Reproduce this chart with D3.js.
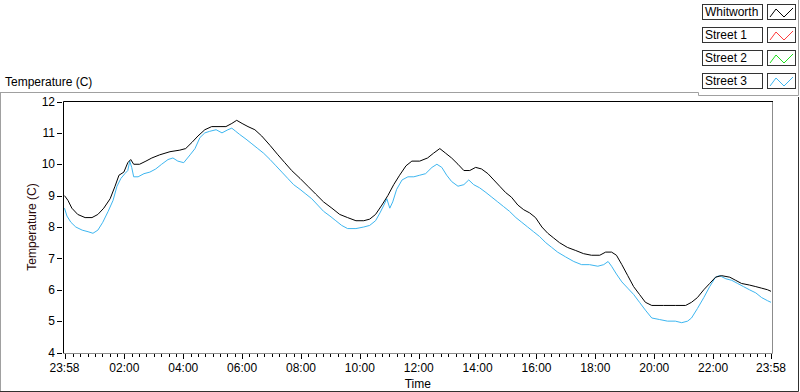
<!DOCTYPE html>
<html><head><meta charset="utf-8">
<script src="https://cdn.jsdelivr.net/npm/d3@7"></script>
<style>
body{margin:0;background:#fff;}
svg{display:block;font-family:"Liberation Sans","Noto Sans",sans-serif;}
</style></head>
<body><svg id="c" width="800" height="392"></svg>
<script>
// ---- data ----
const seriesNames = ["Whitworth","Street 1","Street 2","Street 3"];
const seriesColors = ["#000000","#ff3b3b","#1ee01e","#3db6f0"];
const yTicks = [4,5,6,7,8,9,10,11,12];
const xTickLabels = ["23:58","02:00","04:00","06:00","08:00","10:00","12:00","14:00","16:00","18:00","20:00","22:00","23:58"];
// minutes after 23:58
const whitworthMin = [0,7,15,27,42,56,68,80,93,103,111,121,129,135,141,153,166,178,194,215,235,247,260,272,286,300,317,329,341,351,362,374,388,402,419,435,449,463,480,496,512,528,545,561,577,594,610,622,634,647,659,671,683,696,708,724,740,752,765,777,789,802,814,826,838,850,863,875,887,899,911,924,936,948,960,973,985,997,1009,1025,1042,1058,1074,1091,1103,1115,1125,1136,1148,1160,1172,1184,1197,1221,1245,1266,1278,1290,1303,1315,1327,1339,1356,1368,1380,1396,1409,1421,1433,1440];
const whitworthTemp = [9.0,8.85,8.6,8.4,8.3,8.3,8.4,8.6,8.9,9.3,9.65,9.75,10.05,10.15,10.0,10.0,10.1,10.2,10.3,10.4,10.45,10.5,10.7,10.9,11.1,11.2,11.2,11.2,11.3,11.4,11.3,11.2,11.1,10.9,10.6,10.3,10.05,9.8,9.55,9.3,9.05,8.8,8.6,8.4,8.3,8.2,8.2,8.25,8.4,8.7,9.0,9.35,9.65,9.95,10.1,10.1,10.2,10.35,10.5,10.35,10.2,10.0,9.8,9.8,9.9,9.85,9.7,9.5,9.3,9.1,8.95,8.7,8.55,8.45,8.3,8.0,7.8,7.65,7.5,7.35,7.25,7.15,7.1,7.1,7.2,7.2,7.1,6.8,6.45,6.1,5.85,5.6,5.5,5.5,5.5,5.5,5.6,5.75,6.0,6.2,6.4,6.45,6.4,6.3,6.2,6.15,6.1,6.05,6.0,5.95];
const street3Min = [0,5,13,23,36,48,58,68,78,89,99,107,115,123,129,133,137,141,150,162,174,186,198,211,221,231,243,256,266,276,286,296,309,321,333,341,349,357,370,382,394,406,419,431,443,455,467,480,492,504,516,528,541,553,565,577,594,610,622,634,643,651,657,663,669,677,688,700,712,724,736,749,759,769,779,789,802,814,824,834,846,859,871,883,895,907,920,932,944,956,968,981,993,1005,1021,1038,1054,1070,1087,1099,1108,1115,1125,1136,1148,1160,1172,1184,1197,1213,1229,1245,1258,1270,1278,1290,1303,1315,1327,1335,1348,1360,1372,1384,1396,1409,1421,1433,1440];
const street3Temp = [8.6,8.35,8.15,8.0,7.9,7.85,7.8,7.9,8.15,8.5,8.85,9.3,9.55,9.7,9.8,10.1,9.9,9.6,9.6,9.7,9.75,9.85,10.0,10.15,10.2,10.1,10.05,10.3,10.5,10.85,11.0,11.05,11.1,11.0,11.1,11.15,11.05,10.95,10.8,10.65,10.5,10.35,10.15,9.95,9.75,9.55,9.35,9.2,9.05,8.9,8.7,8.5,8.35,8.2,8.05,7.95,7.95,8.0,8.05,8.2,8.45,8.7,8.9,8.6,8.8,9.2,9.5,9.6,9.6,9.65,9.7,9.9,10.0,9.9,9.65,9.45,9.3,9.35,9.5,9.35,9.25,9.1,8.95,8.8,8.65,8.5,8.3,8.15,8.0,7.85,7.7,7.5,7.35,7.2,7.05,6.9,6.8,6.8,6.75,6.8,6.9,6.75,6.5,6.25,6.05,5.85,5.6,5.35,5.1,5.05,5.0,5.0,4.95,5.0,5.1,5.4,5.75,6.1,6.4,6.45,6.35,6.3,6.2,6.1,6.0,5.9,5.75,5.65,5.6];

// ---- chart ----
const svg = d3.select("#c");
const start = new Date(2013,0,1,23,58);
const end = new Date(2013,0,2,23,58);
const toDate = m => new Date(start.getTime() + m*60000);
const L = 64.5, R = 771, T = 101.5, B = 352.5;
const x = d3.scaleTime().domain([start,end]).range([L,R]);
const y = d3.scaleLinear().domain([4,12]).range([B,T]);

svg.append("rect").attr("width",800).attr("height",392).attr("fill","#fff");

// outer frame
const fr = svg.append("g").attr("fill","none");
fr.append("path").attr("d","M0,92.5H698.5V95.5H798.5V0").attr("stroke","#a0a0a0");
fr.append("path").attr("d","M0.5,92V392").attr("stroke","#a0a0a0");
fr.append("path").attr("d","M0,391.5H798.5V97").attr("stroke","#303030");

// title
svg.append("text").attr("x",5).attr("y",86).attr("font-size",12).attr("fill","#000").text("Temperature (C)");

// plot frame
fr.append("path").attr("d",`M772.5,101V353.5H63`).attr("stroke","#8c8c8c");
fr.append("path").attr("d",`M63.5,353V101.5H773`).attr("stroke","#000");

// y axis
const ya = svg.append("g");
yTicks.forEach(v=>{
  ya.append("line").attr("x1",57).attr("x2",62).attr("y1",Math.round(y(v))+0.5).attr("y2",Math.round(y(v))+0.5).attr("stroke","#000");
  ya.append("text").attr("x",55).attr("y",y(v)).attr("dy","0.35em").attr("text-anchor","end").attr("font-size",12).attr("fill","#000").text(v);
});
svg.append("text").attr("transform",`translate(36,${(T+B)/2}) rotate(-90)`).attr("text-anchor","middle")
  .attr("font-size",12).attr("fill","#2a0a0a").text("Temperature (C)");

// x axis
const xa = svg.append("g");
const minor = d3.timeMinute.every(15).range(start,end);
minor.forEach(d=>{
  const px = Math.round(x(d))+0.5;
  xa.append("line").attr("x1",px).attr("x2",px).attr("y1",354).attr("y2",357).attr("stroke","#000");
});
const majors = [start].concat(d3.timeHour.every(2).range(new Date(2013,0,2,2,0), new Date(2013,0,2,23,0))).concat([end]);
majors.forEach((d,i)=>{
  const px = Math.round(x(d))+0.5;
  xa.append("line").attr("x1",px).attr("x2",px).attr("y1",354).attr("y2",359).attr("stroke","#000").attr("stroke-width",1);
  xa.append("text").attr("x",x(d)).attr("y",372).attr("text-anchor","middle").attr("font-size",12).attr("fill","#000").text(xTickLabels[i]);
});
svg.append("text").attr("x",(L+R)/2).attr("y",388).attr("text-anchor","middle").attr("font-size",12).attr("fill","#000").text("Time");

// lines
const line = d3.line().x(d=>x(toDate(d[0]))).y(d=>y(d[1]));
const plot = svg.append("g");
plot.append("path").datum(d3.zip(street3Min,street3Temp)).attr("d",line).attr("fill","none").attr("stroke",seriesColors[3]).attr("stroke-width",1);
plot.append("path").datum(d3.zip(whitworthMin,whitworthTemp)).attr("d",line).attr("fill","none").attr("stroke",seriesColors[0]).attr("stroke-width",1);

// legend
const lg = svg.append("g");
seriesNames.forEach((n,i)=>{
  const ty = 4 + i*23;
  lg.append("rect").attr("x",702.5).attr("y",ty+0.5).attr("width",60).attr("height",15).attr("fill","#fff").attr("stroke","#333");
  lg.append("text").attr("x",705).attr("y",ty+12).attr("font-size",12).attr("fill","#000").text(n);
  lg.append("rect").attr("x",767.5).attr("y",ty+0.5).attr("width",28).attr("height",15).attr("fill","#fff").attr("stroke","#333");
  lg.append("path").attr("d",`M770,${ty+13}L776,${ty+5}L784,${ty+13}L793,${ty+4}`).attr("fill","none").attr("stroke",seriesColors[i]);
});
</script>
</body></html>
